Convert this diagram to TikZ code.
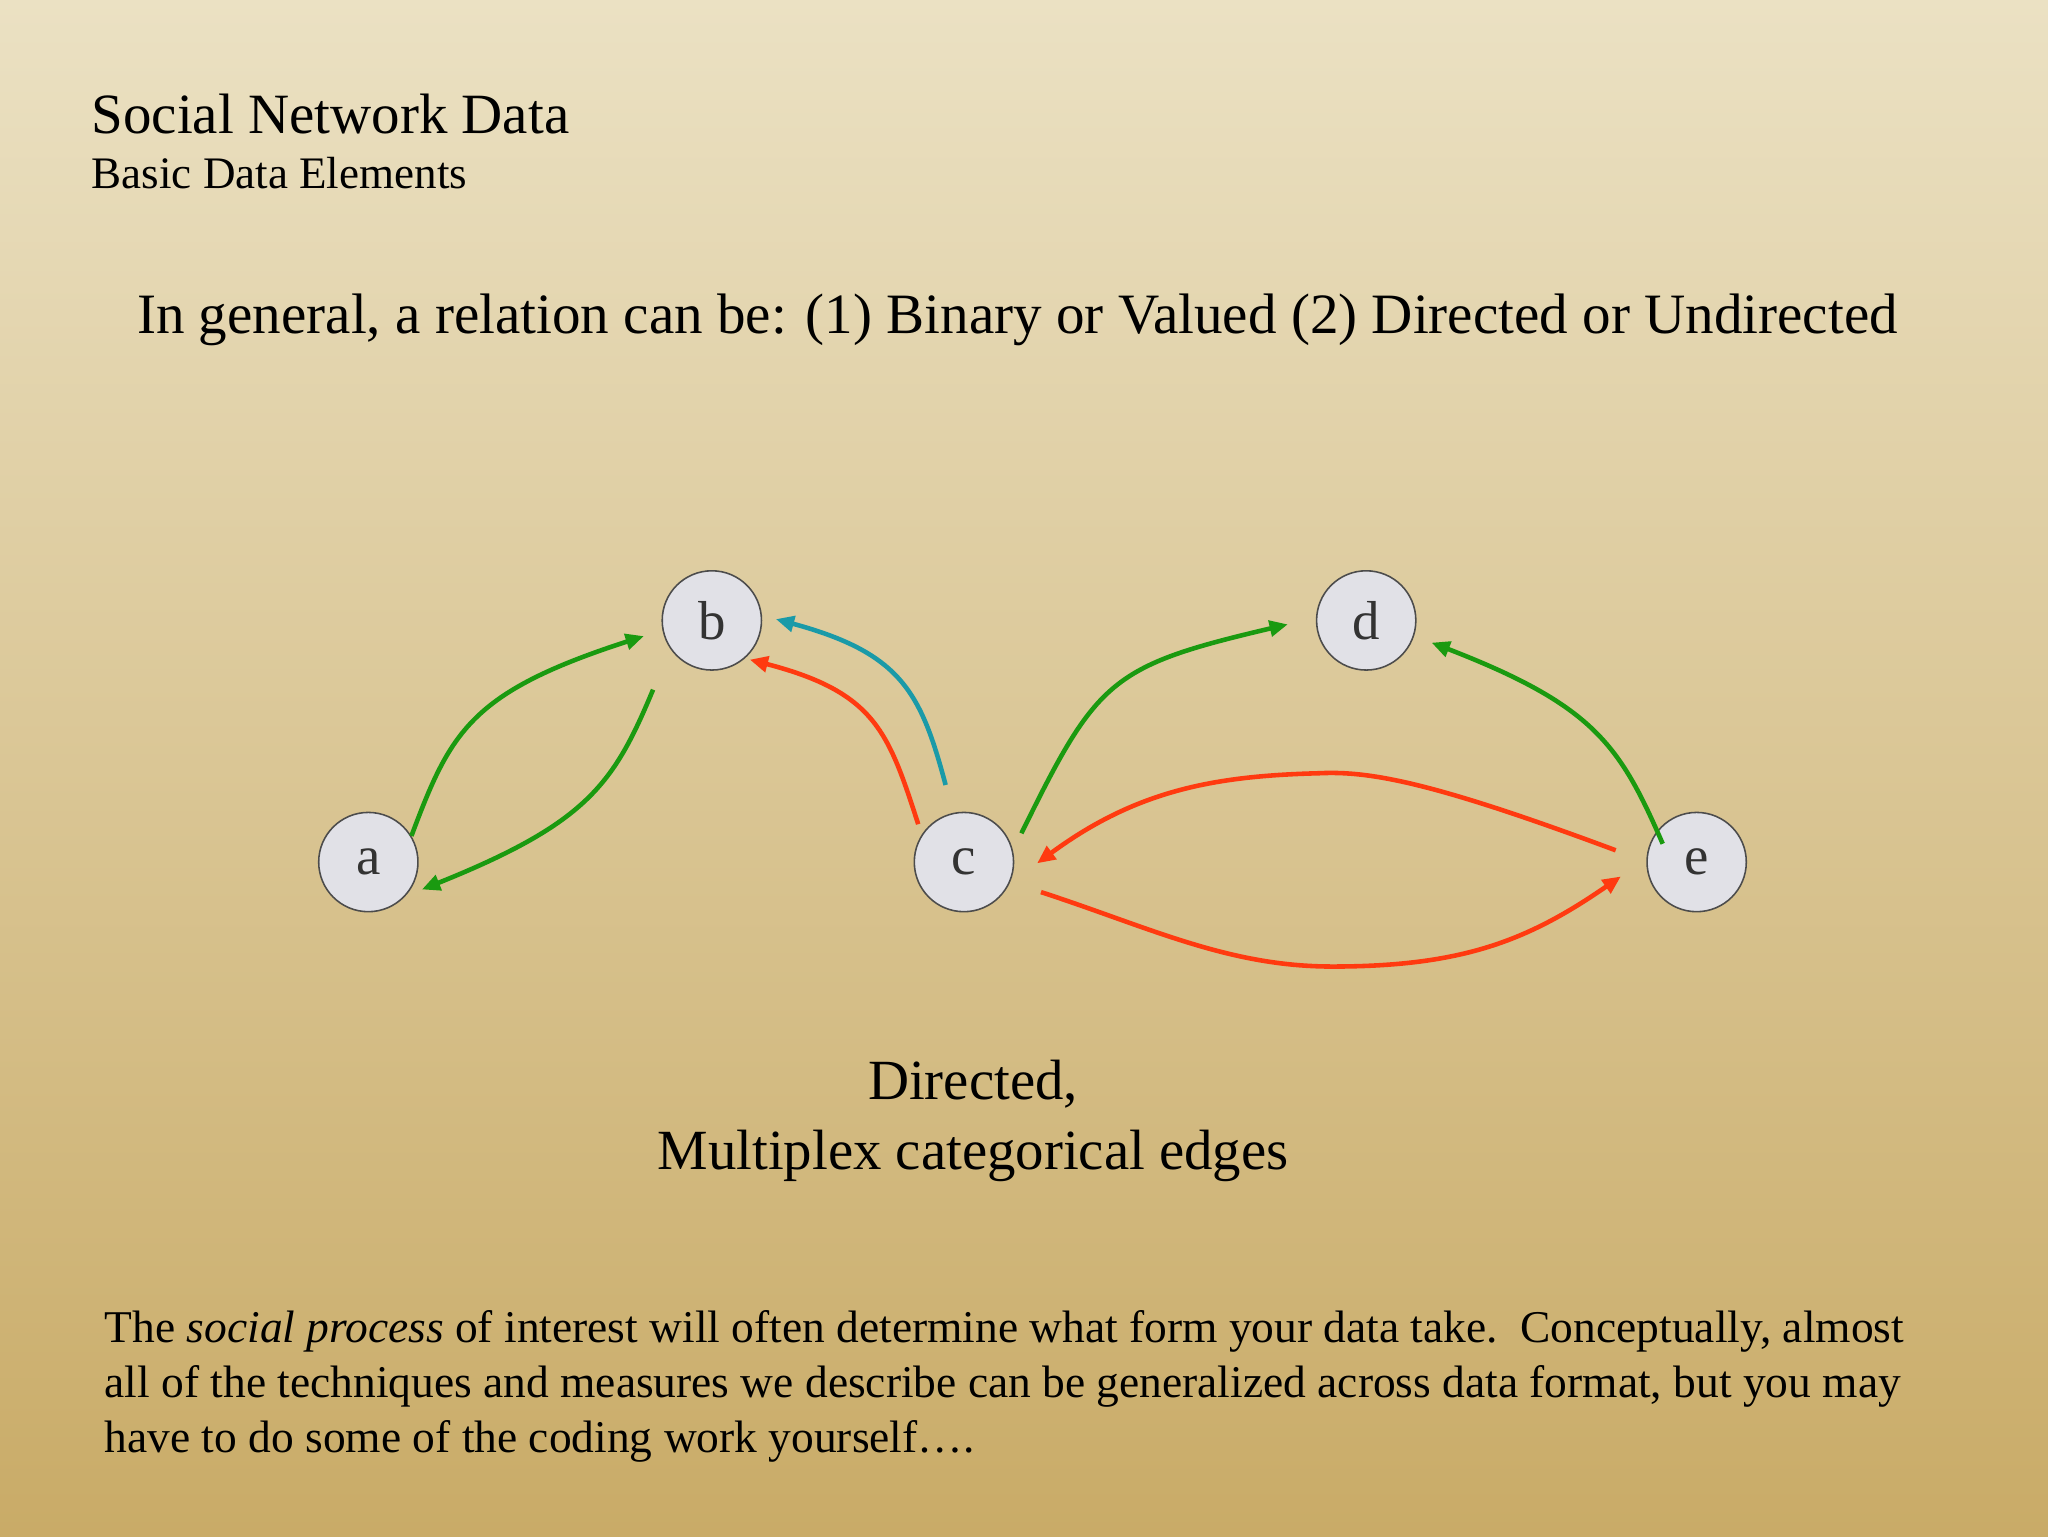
\documentclass[tikz,border=0pt]{standalone}
\usepackage{fontspec}
\setmainfont{Liberation Serif}
\usetikzlibrary{arrows.meta}
\definecolor{bgtop}{HTML}{EBE1C3}
\definecolor{bgbot}{HTML}{C9AB67}
\definecolor{ngreen}{HTML}{1A9A10}
\definecolor{nred}{HTML}{FF3A10}
\definecolor{nteal}{HTML}{1A9AA8}
\definecolor{nfill}{HTML}{E1E1E7}
\tikzset{
  vert/.style={circle,draw=black!70,line width=1.2pt,fill=nfill,minimum size=76pt,inner sep=0pt,font=\fontsize{42}{42}\selectfont,text=black!80},
  edg/.style={line width=3.5pt,-{Triangle[length=14pt,width=12pt]}},
  txt/.style={anchor=base west,inner sep=0pt}
}
\begin{document}
\begin{tikzpicture}[x=1pt,y=-1pt]
\shade[top color=bgtop,bottom color=bgbot] (0,0) rectangle (1568,1176);
\useasboundingbox (0,0) rectangle (1568,1176);
\node[txt,font=\fontsize{43.6}{44}\selectfont] (t1) at (70,102) {Social Network Data};
\node[txt,font=\fontsize{34.5}{35}\selectfont] (t2) at (70,144) {Basic Data Elements};
\node[anchor=base,inner sep=0pt,font=\fontsize{43.7}{44}\selectfont] (t3) at (779,255) {In general, a relation can be: (1) Binary or Valued (2) Directed or Undirected};
\node[anchor=base,inner sep=0pt,font=\fontsize{43.5}{44}\selectfont] (t4) at (745,842) {Directed,};
\node[anchor=base,inner sep=0pt,font=\fontsize{43.5}{44}\selectfont] (t5) at (745,895) {Multiplex categorical edges};
\node[txt,font=\fontsize{34.8}{35}\selectfont] (p1) at (80,1028) {The \textit{social process} of interest will often determine what form your data take.\ \ Conceptually, almost};
\node[txt,font=\fontsize{34.8}{35}\selectfont] (p2) at (80,1070) {all of the techniques and measures we describe can be generalized across data format, but you may};
\node[txt,font=\fontsize{34.8}{35}\selectfont] (p3) at (80,1112) {have to do some of the coding work yourself\ldots.};
\node[vert] (a) at (282,660) {a};
\node[vert] (b) at (545,475) {b};
\node[vert] (c) at (738,660) {c};
\node[vert] (d) at (1046,475) {d};
\node[vert] (e) at (1299,660) {e};
\coordinate (ab1) at (315,640); \coordinate (ab2) at (493,487);
\coordinate (ba1) at (500,528); \coordinate (ba2) at (323,681);
\coordinate (cb1) at (703,631); \coordinate (cb2) at (574,505);
\coordinate (ct1) at (724,601); \coordinate (ct2) at (594,474);
\coordinate (cd1) at (782,638); \coordinate (cd2) at (986,478);
\coordinate (ed1) at (1273,646); \coordinate (ed2) at (1096,492);
\coordinate (ec1) at (1237,651); \coordinate (ec2) at (794,661);
\coordinate (ce1) at (797,683); \coordinate (ce2) at (1241,671);
\draw[edg,ngreen] (ab1) .. controls (345,560) and (360,530) .. (ab2);
\draw[edg,ngreen] (ba1) .. controls (470,600) and (450,630) .. (ba2);
\draw[edg,nred] (cb1) .. controls (680,560) and (670,530) .. (cb2);
\draw[edg,nteal] (ct1) .. controls (705,530) and (690,500) .. (ct2);
\draw[edg,ngreen] (cd1) .. controls (840,520) and (850,510) .. (cd2);
\draw[edg,ngreen] (ed1) .. controls (1240,570) and (1220,540) .. (ed2);
\draw[edg,nred] (ec1) .. controls (1100,600) and (1050,590) .. (1010,592) .. controls (930,594) and (870,605) .. (ec2);
\draw[edg,nred] (ce1) .. controls (880,710) and (940,740) .. (1020,740) .. controls (1120,740) and (1170,720) .. (ce2);
\end{tikzpicture}
\end{document}
